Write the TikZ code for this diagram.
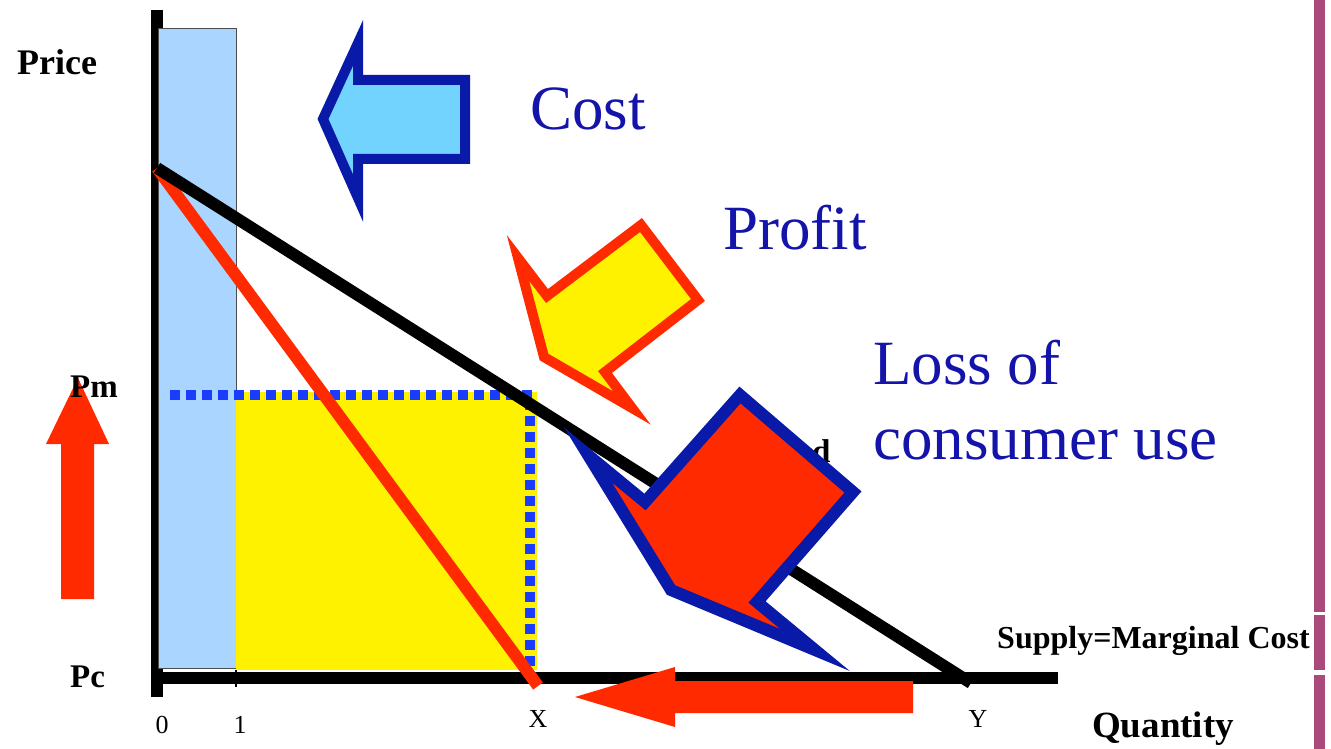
\documentclass[tikz,border=0pt]{standalone}
\usepackage{fontspec}
\setmainfont{Liberation Serif}
\usetikzlibrary{positioning}
\definecolor{barblue}{RGB}{170,213,255}
\definecolor{costblue}{RGB}{115,211,255}
\definecolor{navy}{RGB}{10,26,168}
\definecolor{hotred}{RGB}{255,42,0}
\definecolor{dashblue}{RGB}{25,60,255}
\definecolor{plum}{RGB}{170,74,122}
\definecolor{wordblue}{RGB}{20,20,170}

\begin{document}
\begin{tikzpicture}[x=1pt,y=-1pt,
		axisline/.style={line width=12pt},
		pricelevel/.style={dashblue,line width=10pt,dash pattern=on 10pt off 6pt},
		bigword/.style={text=wordblue,font=\fontsize{63}{78}\selectfont,inner sep=0pt,anchor=base west},
		axislabel/.style={font=\fontsize{33}{36}\selectfont\bfseries,inner sep=0pt,anchor=base west},
		ticklabel/.style={font=\fontsize{26}{28}\selectfont,inner sep=0pt,anchor=base}]
			\useasboundingbox (0,0) rectangle (1331,749);
			\coordinate (ytop) at (157,10);
			\coordinate (ybot) at (157,697);
			\coordinate (xleft) at (151,678);
			\coordinate (xright) at (1058,678);
			\coordinate (pmax) at (157,168);
			\coordinate (xq) at (538,686);
			\coordinate (yq) at (971,683);
			\draw[axisline] (ytop) -- (ybot);
			\filldraw[fill=barblue,draw=gray!60!black,line width=1pt](158,29) rectangle (236,668);
			\fill[yellow](236,392) rectangle (537,670);
			\draw[pricelevel] (170,395) -- (537,395);
			\draw[pricelevel] (530,400) -- (530,668);
			\draw[axisline] (xleft) -- (xright);
			\draw[line width=2pt] (236,670) -- (236,687);
			\draw[hotred,line width=12pt] (pmax) -- (xq);
			\draw[line width=12pt] (pmax) -- (yq);
			\node[axislabel] (d) at (812,462) {d};
			\filldraw[fill=hotred,draw=navy,line width=12pt](740,395) -- (853,492) -- (757,602) -- (815,650) -- (671,590) -- (588,455) -- (645,502) -- cycle;
			\filldraw[fill=yellow,draw=hotred,line width=10pt](518,258) -- (547,296) -- (641,225) -- (698,300) -- (605,372) -- (632,408) -- (544,357) -- cycle;
			\filldraw[fill=costblue,draw=navy,line width=10pt](323,119) -- (358,43) -- (358,80) -- (465,80) -- (465,159) -- (358,159) -- (358,198) -- cycle;
			\fill[hotred](575,697) -- (675,667) -- (675,681) -- (913,681) -- (913,713) -- (675,713) -- (675,727) -- cycle;
			\fill[hotred](78,378) -- (109,444) -- (94,444) -- (94,599) -- (61,599) -- (61,444) -- (46,444) -- cycle;
			\fill[plum](1314,0) rectangle (1325,612);
			\fill[plum](1314,615) rectangle (1325,670);
			\fill[plum](1314,675) rectangle (1325,749);
			\node[bigword] (cost) at (530,130) {Cost};
			\node[bigword] (profit) at (723,249) {Profit};
			\node[bigword] (loss) at (873,384) {Loss of};
			\node[bigword] (use) at (873,459) {consumer use};
			\node[axislabel,font=\fontsize{36}{40}\selectfont\bfseries] (price) at (17,75) {Price};
			\node[axislabel] (pm) at (70,397) {Pm};
			\node[axislabel] (pc) at (70,687) {Pc};
			\node[axislabel,font=\fontsize{32}{36}\selectfont\bfseries] (supply) at (997,648) {Supply=Marginal Cost};
			\node[axislabel,font=\fontsize{37}{40}\selectfont\bfseries] (quantity) at (1092,737) {Quantity};
			\node[ticklabel] (zero) at (162,733) {0};
			\node[ticklabel] (one) at (240,733) {1};
			\node[ticklabel] (xlab) at (538,727) {X};
			\node[ticklabel] (ylab) at (978,727) {Y};
		\end{tikzpicture}
\end{document}
